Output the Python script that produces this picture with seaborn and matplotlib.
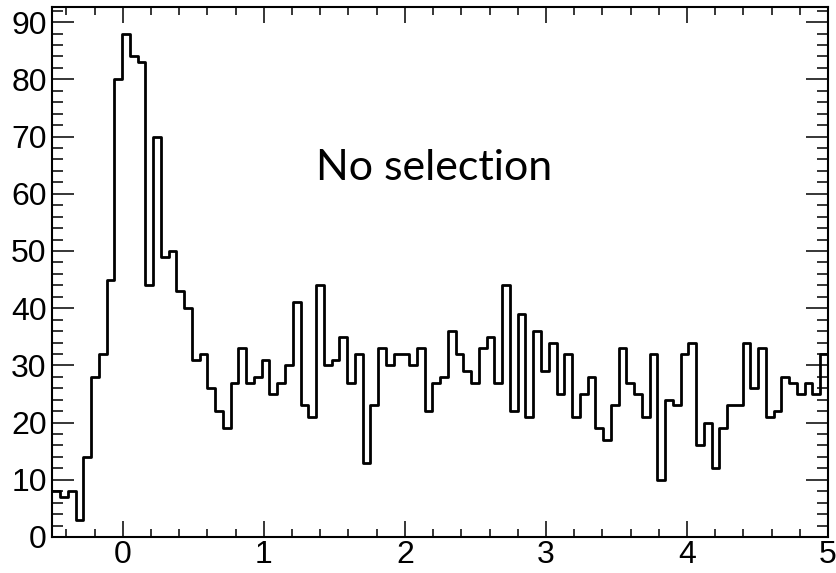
import numpy as np
import pandas as pd
import matplotlib
matplotlib.use("Agg")
import matplotlib.pyplot as plt
import seaborn as sns
from matplotlib.ticker import MultipleLocator

# histogram: 100 bins from -0.5 to 5
x_min, x_max, n_bins = -0.5, 5.0, 100
counts = [8, 7, 8, 3, 14, 28, 32, 45, 80, 88,
          84, 83, 44, 70, 49, 50, 43, 40, 31, 32,
          26, 22, 19, 27, 33, 27, 28, 31, 25, 27,
          30, 41, 23, 21, 44, 30, 31, 35, 27, 32,
          13, 23, 33, 30, 32, 32, 30, 33, 22, 27,
          28, 36, 32, 29, 27, 33, 35, 27, 44, 22,
          39, 21, 36, 29, 34, 25, 32, 21, 25, 28,
          19, 17, 23, 33, 27, 25, 21, 32, 10, 24,
          23, 32, 34, 16, 20, 12, 19, 23, 23, 34,
          26, 33, 21, 22, 28, 27, 25, 27, 25, 32]
x_ticks = [0, 1, 2, 3, 4, 5]
y_ticks = [0, 10, 20, 30, 40, 50, 60, 70, 80, 90]
annotation = "No selection"

bw = (x_max - x_min) / n_bins
centers = x_min + bw * (np.arange(n_bins) + 0.5)
df = pd.DataFrame({"x": centers, "w": counts})

sns.set_style("white")
plt.rcParams["font.family"] = ["Liberation Sans", "DejaVu Sans"]

fig = plt.figure(figsize=(8.36, 5.73), dpi=100)
ax = fig.add_axes([52.3 / 836, 36 / 573, (828 - 52.3) / 836, (537 - 7.3) / 573])

sns.histplot(data=df, x="x", weights="w", bins=n_bins, binrange=(x_min, x_max),
             element="step", fill=False, color="black", linewidth=2.0, ax=ax)

ax.set_xlim(x_min, x_max)
ax.set_ylim(0, 92.6)
ax.set_xticks(x_ticks)
ax.set_yticks(y_ticks)
ax.xaxis.set_minor_locator(MultipleLocator(0.2))
ax.yaxis.set_minor_locator(MultipleLocator(2))
ax.set_xlabel("")
ax.set_ylabel("")

for s in ax.spines.values():
    s.set_visible(True)
    s.set_color("black")
    s.set_linewidth(1.5)

ax.tick_params(axis="both", which="both", direction="in", top=True, right=True,
               bottom=True, left=True, colors="black", labelsize=23, width=1.1)
ax.tick_params(axis="x", which="major", length=11.5, pad=2)
ax.tick_params(axis="x", which="minor", length=5.8)
ax.tick_params(axis="y", which="major", length=16, pad=4)
ax.tick_params(axis="y", which="minor", length=8)

ax.text(1.37, 64.5, annotation, fontsize=31, family=["Lato", "DejaVu Sans"],
        ha="left", va="center", color="black")

fig.savefig("out.png", dpi=100)
